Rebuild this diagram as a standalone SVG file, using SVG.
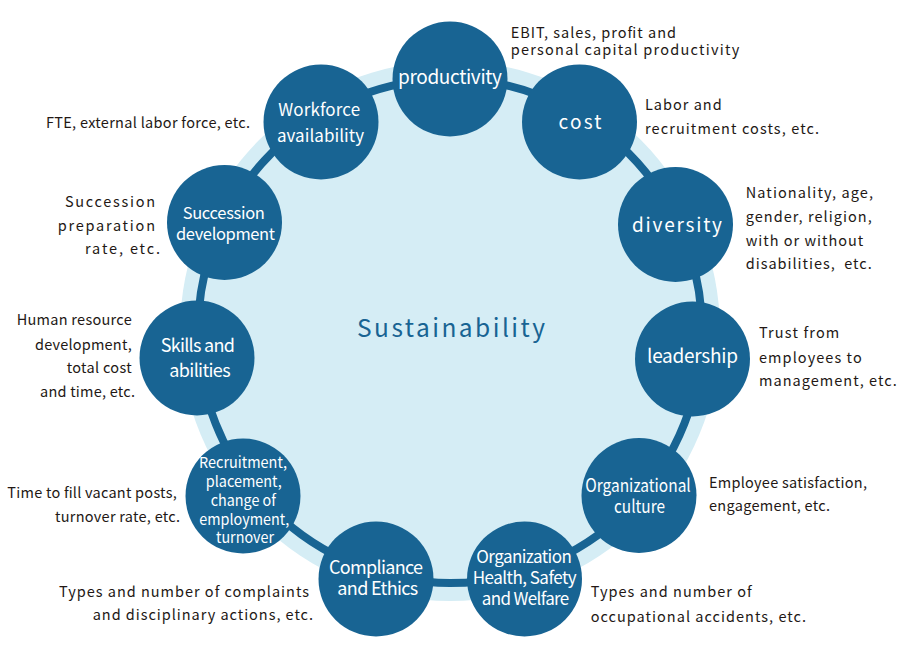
<svg xmlns="http://www.w3.org/2000/svg" width="900" height="662" viewBox="0 0 900 662">
<style>
.bg{fill:#d5edf5}
.ring{fill:none;stroke:#186493;stroke-width:8}
.node{fill:#186493}
.nt{font-family:"Noto Sans CJK JP","Noto Sans",sans-serif;fill:#ffffff;text-anchor:middle}
.ann{font-family:"Noto Sans CJK JP","Noto Sans",sans-serif;fill:#231815;font-size:14.5px}
.title{font-family:"Noto Sans CJK JP","Noto Sans",sans-serif;fill:#186493;font-size:24.5px;text-anchor:middle}
</style>
<rect width="900" height="662" fill="#ffffff"/>
<circle class="bg" cx="450" cy="331" r="270"/>
<g id="connectors">
<circle class="ring" cx="450" cy="331" r="252"/>
</g>
<text class="title" x="451" y="337" textLength="188" lengthAdjust="spacing">Sustainability</text>

<g id="node-productivity">
<circle class="node" cx="450" cy="79" r="57.5"/>
<text class="nt" x="450" y="84" font-size="19" textLength="104" lengthAdjust="spacing">productivity</text>
</g>
<g id="node-cost">
<circle class="node" cx="579.5" cy="122" r="57.5"/>
<text class="nt" x="580" y="129" font-size="19" textLength="43" lengthAdjust="spacing">cost</text>
</g>
<g id="node-diversity">
<circle class="node" cx="675.5" cy="224.5" r="57.5"/>
<text class="nt" x="677" y="231.5" font-size="19" textLength="90" lengthAdjust="spacing">diversity</text>
</g>
<g id="node-leadership">
<circle class="node" cx="692.5" cy="359" r="57.5"/>
<text class="nt" x="692.5" y="363" font-size="19" textLength="91" lengthAdjust="spacing">leadership</text>
</g>
<g id="node-culture">
<circle class="node" cx="639" cy="495.5" r="57.5"/>
<text class="nt" x="638" y="491.5" font-size="18" textLength="105.5" lengthAdjust="spacingAndGlyphs">Organizational</text>
<text class="nt" x="639.5" y="512.5" font-size="18" textLength="51" lengthAdjust="spacingAndGlyphs">culture</text>
</g>
<g id="node-health">
<circle class="node" cx="524.5" cy="579" r="57.5"/>
<text class="nt" x="524" y="562.5" font-size="17" textLength="95.5" lengthAdjust="spacing">Organization</text>
<text class="nt" x="524.7" y="584" font-size="17" textLength="104" lengthAdjust="spacing">Health, Safety</text>
<text class="nt" x="525.5" y="605" font-size="17" textLength="87.5" lengthAdjust="spacing">and Welfare</text>
</g>
<g id="node-compliance">
<circle class="node" cx="376" cy="579" r="57.5"/>
<text class="nt" x="376" y="574" font-size="18" textLength="94" lengthAdjust="spacing">Compliance</text>
<text class="nt" x="377.8" y="595" font-size="18" textLength="81" lengthAdjust="spacing">and Ethics</text>
</g>
<g id="node-recruitment">
<circle class="node" cx="243" cy="496" r="57.5"/>
<text class="nt" x="243" y="468" font-size="15" textLength="88" lengthAdjust="spacingAndGlyphs">Recruitment,</text>
<text class="nt" x="243.7" y="487" font-size="15" textLength="76" lengthAdjust="spacingAndGlyphs">placement,</text>
<text class="nt" x="243.3" y="506" font-size="15" textLength="65.3" lengthAdjust="spacingAndGlyphs">change of</text>
<text class="nt" x="244.3" y="524.5" font-size="15" textLength="90" lengthAdjust="spacingAndGlyphs">employment,</text>
<text class="nt" x="245" y="542.5" font-size="15" textLength="58" lengthAdjust="spacingAndGlyphs">turnover</text>
</g>
<g id="node-skills">
<circle class="node" cx="197" cy="358" r="57.5"/>
<text class="nt" x="197.8" y="352" font-size="18" textLength="74.3" lengthAdjust="spacing">Skills and</text>
<text class="nt" x="200" y="377" font-size="18" textLength="61.3" lengthAdjust="spacing">abilities</text>
</g>
<g id="node-succession">
<circle class="node" cx="224.5" cy="222.5" r="57.5"/>
<text class="nt" x="223.8" y="219" font-size="16.5" textLength="82.3" lengthAdjust="spacing">Succession</text>
<text class="nt" x="225.5" y="240" font-size="16.5" textLength="99" lengthAdjust="spacing">development</text>
</g>
<g id="node-workforce">
<circle class="node" cx="321" cy="122" r="57.5"/>
<text class="nt" x="319.2" y="115.5" font-size="17" textLength="81.7" lengthAdjust="spacing">Workforce</text>
<text class="nt" x="320.5" y="142" font-size="17" textLength="87" lengthAdjust="spacing">availability</text>
</g>

<g id="annotations">
<text class="ann" x="510.7" y="37.5" textLength="165.3" lengthAdjust="spacing">EBIT, sales, profit and</text>
<text class="ann" x="510.7" y="55" textLength="228.6" lengthAdjust="spacing">personal capital productivity</text>
<text class="ann" x="645" y="110" textLength="76.7" lengthAdjust="spacing">Labor and</text>
<text class="ann" x="645" y="134" textLength="174" lengthAdjust="spacing">recruitment costs, etc.</text>
<text class="ann" x="745.7" y="198" textLength="127.3" lengthAdjust="spacing">Nationality, age,</text>
<text class="ann" x="745.7" y="222" textLength="126" lengthAdjust="spacing">gender, religion,</text>
<text class="ann" x="745.7" y="246" textLength="117.6" lengthAdjust="spacing">with or without</text>
<text class="ann" x="745.7" y="269" textLength="126" lengthAdjust="spacing" xml:space="preserve">disabilities,  etc.</text>
<text class="ann" x="759" y="338" textLength="80.3" lengthAdjust="spacing">Trust from</text>
<text class="ann" x="759" y="363" textLength="102.7" lengthAdjust="spacing">employees to</text>
<text class="ann" x="759" y="386" textLength="137.7" lengthAdjust="spacing">management, etc.</text>
<text class="ann" x="709" y="488.3" textLength="158" lengthAdjust="spacing">Employee satisfaction,</text>
<text class="ann" x="709" y="510.7" textLength="121" lengthAdjust="spacing">engagement, etc.</text>
<text class="ann" x="590.7" y="597.3" textLength="161" lengthAdjust="spacing">Types and number of</text>
<text class="ann" x="590.7" y="621.7" textLength="215.3" lengthAdjust="spacing">occupational accidents, etc.</text>
<text class="ann" x="59" y="596.7" textLength="250" lengthAdjust="spacing">Types and number of complaints</text>
<text class="ann" x="92.7" y="620" textLength="220.3" lengthAdjust="spacing">and disciplinary actions, etc.</text>
<text class="ann" x="7.3" y="498" textLength="169.4" lengthAdjust="spacing">Time to fill vacant posts,</text>
<text class="ann" x="55" y="521.7" textLength="125" lengthAdjust="spacing">turnover rate, etc.</text>
<text class="ann" x="16.7" y="325" textLength="115" lengthAdjust="spacing">Human resource</text>
<text class="ann" x="35" y="350" textLength="96.7" lengthAdjust="spacing">development,</text>
<text class="ann" x="66.7" y="373" textLength="65" lengthAdjust="spacing">total cost</text>
<text class="ann" x="40" y="397" textLength="95" lengthAdjust="spacing">and time, etc.</text>
<text class="ann" x="65" y="207" textLength="90" lengthAdjust="spacing">Succession</text>
<text class="ann" x="57.7" y="231" textLength="97.3" lengthAdjust="spacing">preparation</text>
<text class="ann" x="85" y="254" textLength="75" lengthAdjust="spacing">rate, etc.</text>
<text class="ann" x="46" y="128" textLength="204" lengthAdjust="spacing">FTE, external labor force, etc.</text>
</g>
</svg>
